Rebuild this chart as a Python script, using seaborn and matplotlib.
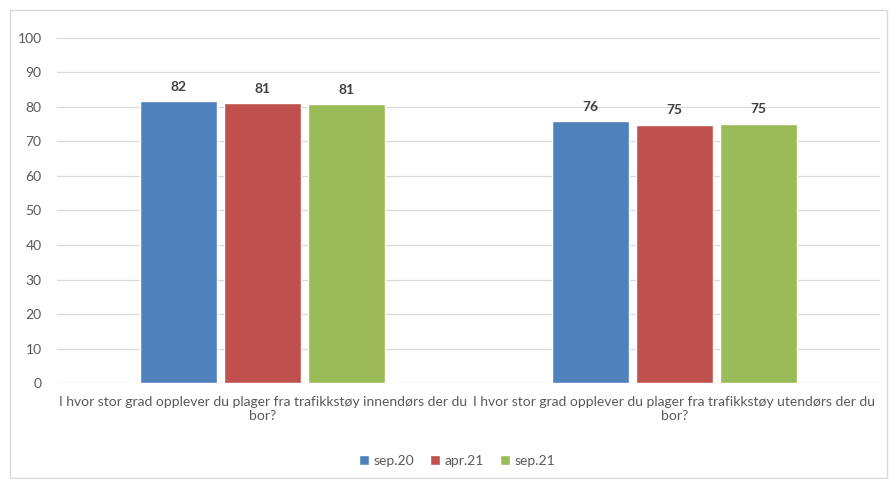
import matplotlib
matplotlib.use("Agg")
import matplotlib.pyplot as plt
import seaborn as sns
import pandas as pd

# data
questions = [
    "I hvor stor grad opplever du plager fra trafikkstøy innendørs der du\nbor?",
    "I hvor stor grad opplever du plager fra trafikkstøy utendørs der du\nbor?",
]
periods = ["sep.20", "apr.21", "sep.21"]
sep20 = [81.7, 75.9]
apr21 = [81.2, 74.9]
sep21 = [80.8, 75.2]
colors = ["#4F81BD", "#C0504D", "#9BBB59"]

rows = []
for period, vals in zip(periods, [sep20, apr21, sep21]):
    for q, v in zip(questions, vals):
        rows.append({"question": q, "period": period, "value": v})
df = pd.DataFrame(rows)

sns.set_style("white")
plt.rcParams["font.family"] = ["Lato", "DejaVu Sans"]

fig = plt.figure(figsize=(8.91, 4.79), dpi=100)
ax = fig.add_axes([0.064, 0.2004, 0.924, 0.7203])

sns.barplot(data=df, x="question", y="value", hue="period", order=questions,
            hue_order=periods, palette=colors, width=0.612, gap=0.085,
            saturation=1, ax=ax, legend=True)

ax.set_ylim(0, 100)
ax.set_yticks(range(0, 101, 10))
ax.yaxis.grid(True, color="#D9D9D9", linewidth=0.9)
ax.set_axisbelow(True)
for s in ax.spines.values():
    s.set_visible(False)
ax.tick_params(axis="both", length=0, colors="#595959", labelsize=10)
ax.tick_params(axis="y", pad=11)
ax.tick_params(axis="x", pad=9)
ax.set_xlabel("")
ax.set_ylabel("")

for cont in ax.containers:
    ax.bar_label(cont, labels=[f"{v:.0f}" for v in cont.datavalues],
                 padding=6, fontsize=10, fontweight="bold", color="#404040")

ax.legend(loc="center", bbox_to_anchor=(0.513, 1 - 461 / 479), bbox_transform=fig.transFigure,
          ncol=3, frameon=False, fontsize=10, handlelength=0.7, handleheight=0.7,
          handletextpad=0.3, columnspacing=1.2, labelcolor="#595959")

# light frame around the chart area
fig.patches.append(plt.Rectangle((10 / 891, 0.002), 0.996 - 10 / 891, 1 - 10 / 479 - 0.002,
                                 transform=fig.transFigure, fill=False,
                                 edgecolor="#D9D9D9", linewidth=1))

fig.savefig("out.png", dpi=100)
